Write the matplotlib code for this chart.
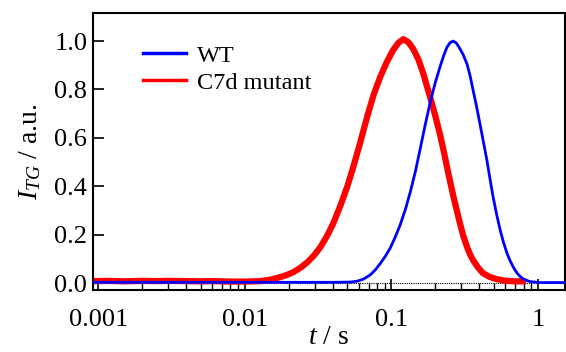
import matplotlib
matplotlib.use('Agg')
import matplotlib.pyplot as plt
import numpy as np
from matplotlib.ticker import LogLocator, NullFormatter, FixedLocator, FuncFormatter

plt.rcParams['font.family'] = 'Liberation Serif'
plt.rcParams['mathtext.fontset'] = 'custom'
plt.rcParams['mathtext.rm'] = 'Liberation Serif'
plt.rcParams['mathtext.it'] = 'Liberation Serif:italic'

# WT signal (t in s, normalised intensity)
wt_t = [0.00092, 0.01, 0.04, 0.0526, 0.059, 0.065, 0.072, 0.078, 0.084, 0.091,
        0.0985, 0.106, 0.115, 0.125, 0.135, 0.146, 0.157, 0.170, 0.184, 0.199,
        0.215, 0.228, 0.240, 0.252, 0.264, 0.277, 0.29, 0.309, 0.329, 0.345,
        0.361, 0.382, 0.403, 0.426, 0.45, 0.472, 0.494, 0.522, 0.551, 0.582,
        0.615, 0.645, 0.68, 0.72, 0.76, 0.80, 0.883, 1.03, 1.55]
wt_i = [0.003, 0.003, 0.003, 0.004, 0.008, 0.017, 0.034, 0.055, 0.080, 0.110,
        0.145, 0.187, 0.240, 0.305, 0.377, 0.460, 0.550, 0.650, 0.744, 0.825,
        0.893, 0.940, 0.975, 0.993, 1.0, 0.993, 0.975, 0.945, 0.905, 0.857,
        0.800, 0.730, 0.658, 0.582, 0.506, 0.430, 0.360, 0.288, 0.224, 0.170,
        0.125, 0.094, 0.066, 0.042, 0.026, 0.016, 0.006, 0.002, 0.002]

# C7d mutant signal
mu_t = [0.00092, 0.0012, 0.0015, 0.002, 0.0025, 0.003, 0.004, 0.005, 0.006, 0.008,
        0.010, 0.0115, 0.0129, 0.015, 0.0176, 0.0195, 0.0215, 0.024, 0.0269, 0.0298,
        0.0329, 0.0365, 0.0403, 0.045, 0.0502, 0.0551, 0.0615, 0.0687, 0.076, 0.084,
        0.093, 0.103, 0.112, 0.121, 0.131, 0.141, 0.153, 0.165, 0.184, 0.2,
        0.215, 0.23, 0.24, 0.252, 0.264, 0.28, 0.294, 0.31, 0.329, 0.345,
        0.361, 0.39, 0.422, 0.47, 0.526, 0.58, 0.644, 0.72, 0.79]
mu_i = [0.008, 0.009, 0.007, 0.009, 0.008, 0.009, 0.008, 0.007, 0.008, 0.006,
        0.006, 0.007, 0.008, 0.014, 0.025, 0.034, 0.045, 0.063, 0.087, 0.115,
        0.149, 0.195, 0.248, 0.320, 0.400, 0.480, 0.582, 0.690, 0.780, 0.851,
        0.912, 0.963, 0.993, 1.008, 0.995, 0.968, 0.925, 0.868, 0.769, 0.690,
        0.615, 0.535, 0.480, 0.420, 0.365, 0.300, 0.248, 0.195, 0.149, 0.118,
        0.095, 0.065, 0.041, 0.025, 0.016, 0.011, 0.008, 0.007, 0.007]

fig = plt.figure(figsize=(5.66, 3.52), dpi=100)
ax = fig.add_axes([0.164, 0.176, 0.834, 0.787])

ax.axhline(0, color='black', lw=0.8, ls=(0, (1, 1)), zorder=1)
ax.plot(wt_t, wt_i, color='#0000ff', lw=2.0, label='WT', zorder=3)
ax.plot(mu_t, mu_i, color='#ff0000', lw=4.5, label='C7d mutant', zorder=2,
        solid_joinstyle='round')

ax.set_xscale('log')
ax.set_xlim(0.00092, 1.53)
ax.set_ylim(-0.029, 1.116)

ax.xaxis.set_major_locator(FixedLocator([0.001, 0.01, 0.1, 1]))
ax.xaxis.set_major_formatter(FuncFormatter(lambda v, p: {0.001: '0.001', 0.01: '0.01', 0.1: '0.1', 1: '1'}.get(round(v, 4), '')))
ax.xaxis.set_minor_locator(LogLocator(base=10, subs=np.arange(2, 10)))
ax.xaxis.set_minor_formatter(NullFormatter())
ax.set_yticks([0.0, 0.2, 0.4, 0.6, 0.8, 1.0])
ax.set_yticklabels(['0.0', '0.2', '0.4', '0.6', '0.8', '1.0'])

ax.tick_params(axis='both', which='major', direction='in', length=8, width=1.2, labelsize=19)
ax.tick_params(axis='x', which='minor', direction='in', length=5, width=1.0)
ax.tick_params(axis='x', which='major', pad=14)
ax.tick_params(axis='y', which='major', pad=4)
for s in ax.spines.values():
    s.set_linewidth(1.5)

ax.set_xlabel('$t$ / s', fontsize=20, labelpad=-5)
ax.set_ylabel('$I_{TG}$ / a.u.', fontsize=20, labelpad=8)

leg = ax.legend(loc='upper left', frameon=False, fontsize=17.5, handlelength=1.8,
                handletextpad=0.45, borderaxespad=0.0, borderpad=0.4,
                bbox_to_anchor=(0.085, 0.92), labelspacing=0.2)
for ln in leg.get_lines():
    ln.set_linewidth(2.5)

fig.savefig('out.png', dpi=100)
